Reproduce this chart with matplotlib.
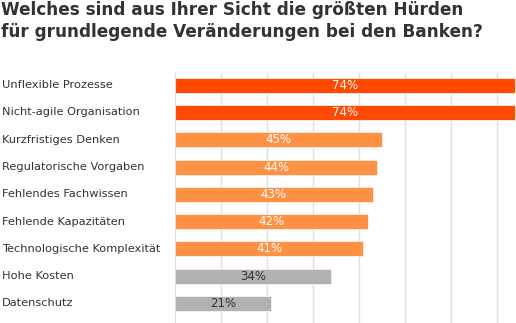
import matplotlib.pyplot as plt
from matplotlib.transforms import blended_transform_factory

categories = ['Unflexible Prozesse', 'Nicht-agile Organisation', 'Kurzfristiges Denken',
              'Regulatorische Vorgaben', 'Fehlendes Fachwissen', 'Fehlende Kapazitäten',
              'Technologische Komplexität', 'Hohe Kosten', 'Datenschutz']
values = [74, 74, 45, 44, 43, 42, 41, 34, 21]
groups = ['top', 'top', 'mid', 'mid', 'mid', 'mid', 'mid', 'low', 'low']
title_lines = ['Welches sind aus Ihrer Sicht die größten Hürden',
               'für grundlegende Veränderungen bei den Banken?']

colors = {'top': '#ff4800', 'mid': '#ff9144', 'low': '#b1b1b1'}
text_colors = {'top': 'white', 'mid': 'white', 'low': '#333333'}

fig = plt.figure(figsize=(5.16, 3.23), dpi=100)
ax = fig.add_axes([0.339, 0.0, 0.661, 0.775])

ypos = list(range(len(categories)))
ax.barh(ypos, values, height=0.55, color=[colors[g] for g in groups],
        edgecolor='#fff0e8', linewidth=0.6, zorder=2)

for y, v, g in zip(ypos, values, groups):
    ax.text(v / 2, y, f'{v}%', ha='center', va='center', fontsize=8.5,
            color=text_colors[g], zorder=3)

ax.set_xlim(0, 74.2)
ax.set_ylim(8.72, -0.46)
ax.set_xticks(range(10, 71, 10))
ax.grid(axis='x', color='#e0e0e0', linewidth=1, zorder=0)
ax.set_yticks([])
ax.tick_params(axis='x', length=0, labelbottom=False)
for side in ['top', 'right', 'bottom']:
    ax.spines[side].set_visible(False)
ax.spines['left'].set_color('#dddddd')

trans = blended_transform_factory(fig.transFigure, ax.transData)
for y, c in zip(ypos, categories):
    ax.text(0.004, y, c, transform=trans, ha='left', va='center', fontsize=8.2,
            color='#333333', clip_on=False)

for yy, line in zip([0.955, 0.885], title_lines):
    fig.text(0.002, yy, line, ha='left', va='baseline', fontsize=12.2,
             fontweight='bold', color='#333333')

fig.savefig('out.png', dpi=100)
